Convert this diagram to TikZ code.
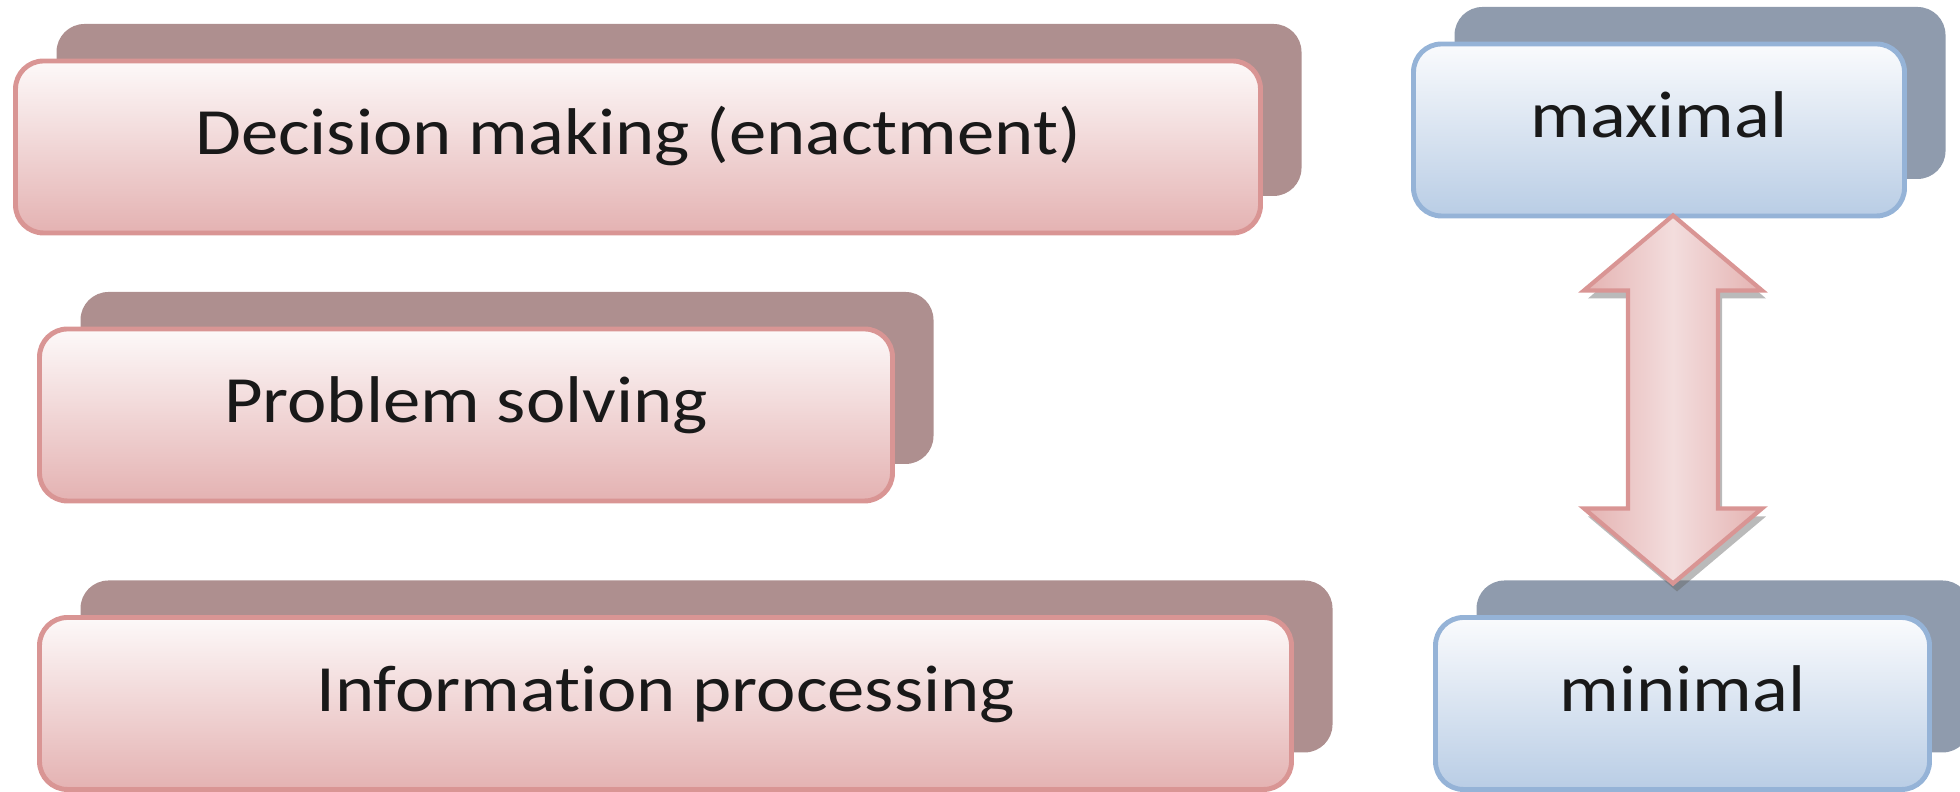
\documentclass[tikz,border=0pt]{standalone}
\usepackage{fontspec}
\setmainfont{Carlito}[Ligatures=NoCommon]
\usetikzlibrary{shadows,calc}

\definecolor{pinktop}{RGB}{253,249,249}
\definecolor{pinkbottom}{RGB}{228,178,178}
\definecolor{pinkline}{RGB}{217,149,148}
\definecolor{pinkshadow}{RGB}{174,143,143}
\definecolor{bluetop}{RGB}{250,251,253}
\definecolor{bluebottom}{RGB}{185,205,229}
\definecolor{blueline}{RGB}{149,179,215}
\definecolor{blueshadow}{RGB}{143,155,173}
\definecolor{arrowside}{RGB}{228,178,177}
\definecolor{arrowmid}{RGB}{243,221,221}

\newcommand{\wide}[1]{\scalebox{1.13}[1]{#1}}

\tikzset{
  box/.style={rounded corners=0.28cm, line width=1.4pt, minimum height=1.72cm,
    text height=0.5cm, text depth=0.34cm, text=black!90, font=\fontsize{18.8}{22}\selectfont},
  redbox/.style={box, draw=pinkline, top color=pinktop, bottom color=pinkbottom,
    general shadow={fill=pinkshadow, shadow xshift=0.41cm, shadow yshift=0.37cm}},
  bluebox/.style={box, draw=blueline, top color=bluetop, bottom color=bluebottom,
    general shadow={fill=blueshadow, shadow xshift=0.41cm, shadow yshift=0.37cm}},
  bigarrow/.style={draw=pinkline, line width=1.2pt, line join=miter,
    left color=arrowside, right color=arrowside, middle color=arrowmid,
    drop shadow={shadow xshift=0.04cm, shadow yshift=-0.08cm, fill=black!60, opacity=0.45}}
}

\begin{document}
\begin{tikzpicture}
\useasboundingbox (0,0) rectangle (19.6,7.92);

\node[redbox, minimum width=12.45cm] (decide) at (6.38,6.45) {\wide{Decision making (enactment)}};
\node[redbox, minimum width=8.53cm] (solve) at (4.66,3.77) {\wide{Problem solving}};
\node[redbox, minimum width=12.52cm] (inform) at (6.655,0.885) {\wide{Information processing}};

\node[bluebox, minimum width=4.91cm] (maxbox) at (16.59,6.62) {\wide{maximal}};
\node[bluebox, minimum width=4.94cm] (minbox) at (16.825,0.885) {\wide{minimal}};

% double block arrow from maximal down to minimal
\coordinate (tipup) at ($(maxbox.south)+(0.14,0.03)$);
\coordinate (tipdown) at ($(tipup)+(0,-3.68)$);
\draw[bigarrow] (tipup) -- ++(0.89,-0.75) -- ++(-0.44,0) -- ++(0,-2.18)
  -- ++(0.44,0) -- (tipdown) -- ++(-0.89,0.75) -- ++(0.44,0)
  -- ++(0,2.18) -- ++(-0.44,0) -- cycle;
\end{tikzpicture}
\end{document}
